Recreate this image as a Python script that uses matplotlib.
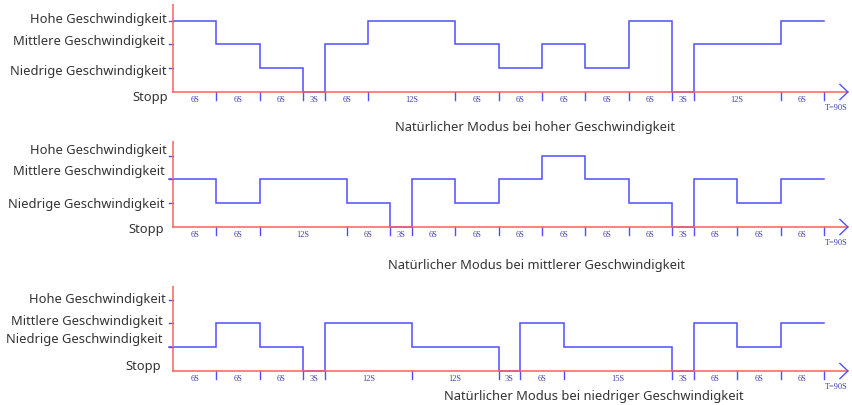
import matplotlib
matplotlib.use("Agg")
import matplotlib.pyplot as plt
import numpy as np

# ---- data ----
level_names = ["Stopp", "Niedrige Geschwindigkeit", "Mittlere Geschwindigkeit", "Hohe Geschwindigkeit"]

p1_durations = [6, 6, 6, 3, 6, 12, 6, 6, 6, 6, 6, 3, 12, 6]
p1_levels = [3, 2, 1, 0, 2, 3, 2, 1, 2, 1, 3, 0, 2, 3]
p1_title = "Natürlicher Modus bei hoher Geschwindigkeit"

p2_durations = [6, 6, 12, 6, 3, 6, 6, 6, 6, 6, 6, 3, 6, 6, 6]
p2_levels = [2, 1, 2, 1, 0, 2, 1, 2, 3, 2, 1, 0, 2, 1, 2]
p2_title = "Natürlicher Modus bei mittlerer Geschwindigkeit"

p3_durations = [6, 6, 6, 3, 12, 12, 3, 6, 15, 3, 6, 6, 6]
p3_levels = [1, 2, 1, 0, 2, 1, 0, 2, 1, 0, 2, 1, 2]
p3_title = "Natürlicher Modus bei niedriger Geschwindigkeit"

total_label = "T=90S"

# ---- layout (pixels) ----
W, H = 852, 406
BLUE = "#5050ff"
RED = "#ff6060"
TXT = "#333333"
LBL = "#4040b0"
x0_px, x90_px = 173, 824
pxs = (x90_px - x0_px) / 90.0
lvl_px = 23.8

fig = plt.figure(figsize=(W / 100, H / 100), dpi=100)

panels = [
    dict(dur=p1_durations, lev=p1_levels, title=p1_title, axis_y=93, top=5, start=0.0,
         lab_y=[97, 72, 42, 20], lab_x=[168, 167, 165, 167], title_xy=(535, 128)),
    dict(dur=p2_durations, lev=p2_levels, title=p2_title, axis_y=228, top=142, start=-4 / pxs,
         lab_y=[230, 205, 172, 151], lab_x=[164, 165, 165, 167], title_xy=(537, 265)),
    dict(dur=p3_durations, lev=p3_levels, title=p3_title, axis_y=372, top=287, start=-4 / pxs,
         lab_y=[367, 340, 322, 299], lab_x=[161, 163, 163, 166], title_xy=(594, 397)),
]

for p in panels:
    bottom_px = p["axis_y"] + 26
    left_px = 100
    ax = fig.add_axes([left_px / W, 1 - bottom_px / H, (W - left_px) / W, (bottom_px - p["top"]) / H])
    xmin = -(x0_px - left_px) / pxs
    xmax = (W - x0_px) / pxs
    ymin = -26 / lvl_px
    ymax = (p["axis_y"] - p["top"]) / lvl_px
    ax.set_xlim(xmin, xmax)
    ax.set_ylim(ymin, ymax)
    ax.axis("off")

    dur = np.array(p["dur"])
    lev = np.array(p["lev"])
    edges = np.concatenate([[0], np.cumsum(dur)])

    # step line
    xs, ys = [], []
    for i in range(len(dur)):
        xs += [p["start"] if i == 0 else edges[i], edges[i + 1]]
        ys += [lev[i], lev[i]]
    ax.plot(xs, ys, color=BLUE, lw=1.1, solid_joinstyle="miter", zorder=3)

    # axes (red)
    ax.plot([0, 0], [0, ymax], color=RED, lw=1.1, zorder=4)
    ax.plot([0, 93.3], [0, 0], color=RED, lw=1.1, zorder=4)
    # arrow chevron
    ax.plot([92.2, 93.3, 92.2], [0.32, 0, -0.32], color=BLUE, lw=1.0, zorder=5)

    # boundary ticks below axis
    tick_len = 8 / lvl_px
    for e in edges[1:]:
        ax.plot([e, e], [0, -tick_len], color=BLUE, lw=1.0, zorder=3)

    # small y ticks at levels
    for l in (1, 2, 3):
        ax.plot([-4 / pxs, 0], [l, l], color=BLUE, lw=1.0, zorder=3)

    # segment labels
    for i in range(len(dur)):
        xc = (edges[i] + edges[i + 1]) / 2
        ax.text(xc, -7.5 / lvl_px, f"{dur[i]}S", ha="center", va="center",
                fontsize=6.0, family="Liberation Serif", color=LBL)
    ax.text(edges[-1] + 0.1, -15 / lvl_px, total_label, ha="left", va="center",
            fontsize=6.0, family="Liberation Serif", color=LBL)

    # level labels (figure pixel positions)
    for name, ly, lx in zip(level_names, p["lab_y"], p["lab_x"]):
        fig.text(lx / W, 1 - ly / H, name, ha="right", va="center",
                 fontsize=9.3, family="Noto Sans", color=TXT)

    fig.text(p["title_xy"][0] / W, 1 - p["title_xy"][1] / H, p["title"],
             ha="center", va="center", fontsize=9.3, family="Noto Sans", color=TXT)

fig.savefig("out.png", dpi=100, facecolor="white")
